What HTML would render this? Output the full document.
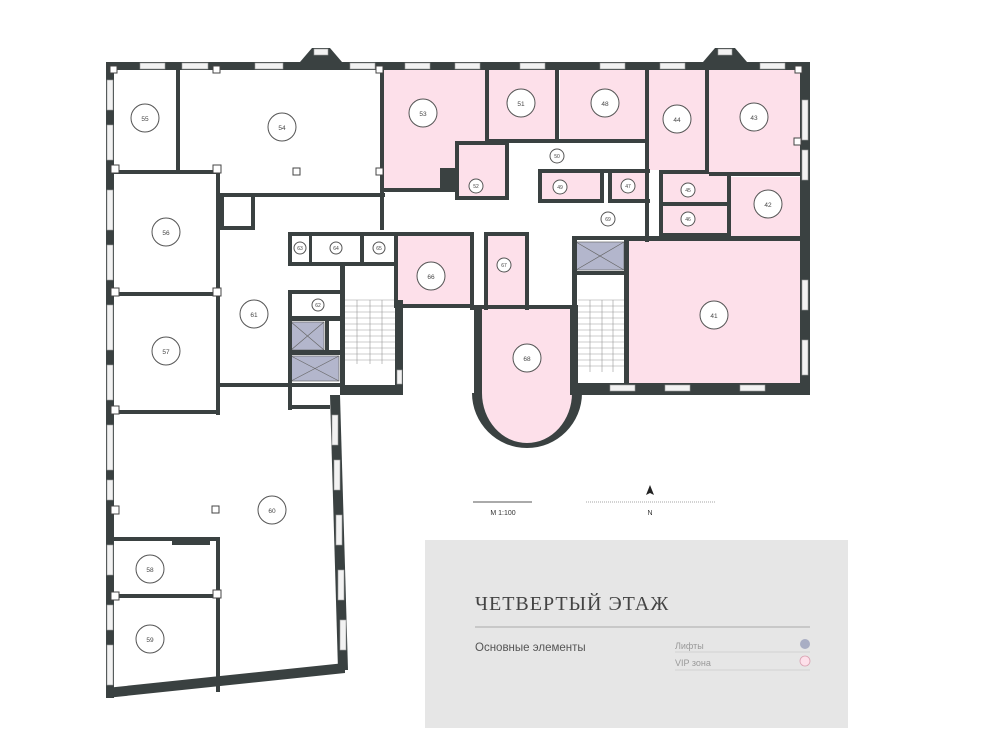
<!DOCTYPE html>
<html><head><meta charset="utf-8"><style>
html,body{margin:0;padding:0;background:#fff;}
svg{display:block}
</style></head><body>
<svg width="1000" height="750" viewBox="0 0 1000 750" xmlns="http://www.w3.org/2000/svg" font-family="Liberation Sans, sans-serif">
<defs>
<g id="c"><circle r="14" fill="#fff" stroke="#555" stroke-width="1"/></g>
</defs>
<g fill="#fde0ea">
<rect x="384" y="70" width="102" height="120"/>
<rect x="487" y="70" width="70" height="70"/>
<rect x="560" y="70" width="86" height="70"/>
<rect x="649" y="70" width="57" height="100"/>
<rect x="708" y="70" width="92" height="103"/>
<rect x="458" y="143" width="47" height="55"/>
<rect x="541" y="172" width="60" height="28"/>
<rect x="610" y="172" width="38" height="28"/>
<rect x="663" y="172" width="64" height="31"/>
<rect x="663" y="205" width="64" height="28"/>
<rect x="731" y="177" width="69" height="59"/>
<rect x="628" y="240" width="172" height="143"/>
<rect x="398" y="236" width="72" height="70"/>
<rect x="488" y="236" width="37" height="70"/>
<path d="M482 308 H572 V393 A45 50 0 0 1 482 393 Z"/>
</g>
<g fill="#b3b6cc" stroke="#666" stroke-width="0.7">
<rect x="576" y="242" width="48" height="28"/><path d="M576 242 L624 270 M624 242 L576 270"/>
<rect x="291" y="322" width="33" height="28"/><path d="M291 322 L324 350 M324 322 L291 350"/>
<rect x="291" y="356" width="48" height="25"/><path d="M291 356 L339 381 M339 356 L291 381"/>
</g>
<g stroke="#999" stroke-width="0.6">
<path d="M345 300 H395 M345 306 H395 M345 312 H395 M345 318 H395 M345 324 H395 M345 330 H395 M345 336 H395 M345 342 H395 M345 348 H395 M345 354 H395 M345 360 H395 M357 300 V364 M370 300 V364 M382 300 V364"/>
<path d="M578 300 H624 M578 306 H624 M578 312 H624 M578 318 H624 M578 324 H624 M578 330 H624 M578 336 H624 M578 342 H624 M578 348 H624 M578 354 H624 M578 360 H624 M578 366 H624 M590 300 V372 M602 300 V372 M613 300 V372"/>
</g>
<g fill="#3a4141">
<rect x="106" y="62" width="704" height="8"/>
<rect x="106" y="62" width="8" height="636"/>
<rect x="800" y="62" width="10" height="333"/>
<rect x="573" y="383" width="237" height="12"/>
<polygon points="106,688 345,663 345,673 106,698"/>
<polygon points="330,395 340,395 348,670 338,670"/>
<rect x="340" y="385" width="63" height="10"/>
<rect x="395" y="300" width="8" height="95"/>
<rect x="474" y="305" width="8" height="90"/>
<rect x="570" y="305" width="8" height="90"/>
<path d="M472 393 A55 55 0 0 0 582 393 L572 393 A45 50 0 0 1 482 393 Z"/>
<polygon points="300,62 312,48 330,48 342,62"/>
<polygon points="703,62 715,48 735,48 747,62"/>
<rect x="176" y="70" width="4" height="102"/>
<rect x="114" y="170" width="106" height="4"/>
<rect x="216" y="170" width="4" height="245"/>
<rect x="114" y="292" width="106" height="4"/>
<rect x="114" y="410" width="106" height="4"/>
<rect x="380" y="70" width="4" height="160"/>
<rect x="485" y="70" width="4" height="73"/>
<rect x="555" y="70" width="4" height="72"/>
<rect x="645" y="70" width="4" height="172"/>
<rect x="705" y="70" width="4" height="104"/>
<rect x="487" y="139" width="160" height="4"/>
<rect x="709" y="172" width="91" height="4"/>
<rect x="240" y="193" width="145" height="4"/>
<rect x="384" y="188" width="75" height="4"/>
<rect x="455" y="141" width="4" height="55"/>
<rect x="455" y="141" width="52" height="4"/>
<rect x="505" y="141" width="4" height="59"/>
<rect x="455" y="196" width="54" height="4"/>
<rect x="440" y="168" width="15" height="24"/>
<rect x="538" y="169" width="4" height="32"/>
<rect x="538" y="169" width="112" height="4"/>
<rect x="538" y="199" width="66" height="4"/>
<rect x="600" y="169" width="4" height="34"/>
<rect x="608" y="169" width="4" height="34"/>
<rect x="608" y="199" width="42" height="4"/>
<rect x="659" y="170" width="4" height="67"/>
<rect x="659" y="170" width="50" height="4"/>
<rect x="659" y="202" width="72" height="4"/>
<rect x="659" y="233" width="72" height="4"/>
<rect x="727" y="174" width="4" height="64"/>
<rect x="628" y="236" width="172" height="5"/>
<rect x="624" y="236" width="5" height="150"/>
<rect x="572" y="236" width="5" height="150"/>
<rect x="572" y="236" width="56" height="4"/>
<rect x="572" y="271" width="56" height="4"/>
<rect x="220" y="193" width="35" height="4"/>
<rect x="220" y="193" width="4" height="35"/>
<rect x="220" y="226" width="35" height="4"/>
<rect x="251" y="193" width="4" height="37"/>
<rect x="288" y="232" width="108" height="4"/>
<rect x="288" y="232" width="4" height="34"/>
<rect x="288" y="262" width="108" height="4"/>
<rect x="309" y="232" width="3" height="34"/>
<rect x="360" y="232" width="4" height="34"/>
<rect x="394" y="232" width="4" height="75"/>
<rect x="394" y="232" width="78" height="4"/>
<rect x="470" y="232" width="4" height="78"/>
<rect x="484" y="232" width="44" height="4"/>
<rect x="484" y="232" width="4" height="78"/>
<rect x="525" y="232" width="4" height="78"/>
<rect x="394" y="304" width="80" height="4"/>
<rect x="480" y="305" width="95" height="4"/>
<rect x="288" y="290" width="54" height="4"/>
<rect x="288" y="290" width="4" height="120"/>
<rect x="340" y="266" width="5" height="120"/>
<rect x="288" y="316" width="54" height="5"/>
<rect x="288" y="350" width="54" height="5"/>
<rect x="325" y="320" width="4" height="32"/>
<rect x="220" y="383" width="122" height="4"/>
<rect x="288" y="405" width="42" height="4"/>
<rect x="114" y="537" width="106" height="4"/>
<rect x="216" y="537" width="4" height="155"/>
<rect x="114" y="594" width="106" height="4"/>
<rect x="172" y="537" width="38" height="8"/>
</g>
<g fill="#fff" stroke="#444" stroke-width="1">
<rect x="293" y="168" width="7" height="7"/>
<rect x="212" y="506" width="7" height="7"/>
<rect x="111" y="165" width="8" height="8"/><rect x="111" y="288" width="8" height="8"/>
<rect x="111" y="406" width="8" height="8"/><rect x="111" y="506" width="8" height="8"/>
<rect x="111" y="592" width="8" height="8"/>
<rect x="213" y="165" width="8" height="8"/><rect x="213" y="288" width="8" height="8"/>
<rect x="213" y="590" width="8" height="8"/>
<rect x="376" y="168" width="7" height="7"/><rect x="376" y="66" width="7" height="7"/>
<rect x="213" y="66" width="7" height="7"/><rect x="110" y="66" width="7" height="7"/>
<rect x="795" y="66" width="7" height="7"/><rect x="794" y="138" width="7" height="7"/>
</g>
<g fill="#f2f2f2" stroke="#999" stroke-width="0.6">
<rect x="140" y="63" width="25" height="6"/><rect x="182" y="63" width="26" height="6"/>
<rect x="255" y="63" width="28" height="6"/><rect x="350" y="63" width="25" height="6"/>
<rect x="405" y="63" width="25" height="6"/><rect x="455" y="63" width="25" height="6"/>
<rect x="520" y="63" width="25" height="6"/><rect x="600" y="63" width="25" height="6"/>
<rect x="660" y="63" width="25" height="6"/><rect x="760" y="63" width="25" height="6"/>
<rect x="314" y="49" width="14" height="6"/><rect x="718" y="49" width="14" height="6"/>
<rect x="107" y="80" width="6" height="30"/><rect x="107" y="125" width="6" height="35"/>
<rect x="107" y="190" width="6" height="40"/><rect x="107" y="245" width="6" height="35"/>
<rect x="107" y="305" width="6" height="45"/><rect x="107" y="365" width="6" height="35"/>
<rect x="107" y="425" width="6" height="45"/><rect x="107" y="480" width="6" height="20"/>
<rect x="107" y="545" width="6" height="30"/><rect x="107" y="605" width="6" height="25"/>
<rect x="107" y="645" width="6" height="40"/>
<rect x="802" y="100" width="6" height="40"/><rect x="802" y="150" width="6" height="30"/>
<rect x="802" y="280" width="6" height="30"/><rect x="802" y="340" width="6" height="35"/>
<rect x="610" y="385" width="25" height="6"/><rect x="665" y="385" width="25" height="6"/>
<rect x="740" y="385" width="25" height="6"/>
<rect x="332" y="415" width="6" height="30"/><rect x="334" y="460" width="6" height="30"/>
<rect x="336" y="515" width="6" height="30"/><rect x="338" y="570" width="6" height="30"/>
<rect x="340" y="620" width="6" height="30"/>
<rect x="397" y="370" width="5" height="14"/>
</g>
<g font-size="6.5" fill="#444" text-anchor="middle">
<use href="#c" x="145" y="118"/><text x="145" y="121">55</text>
<use href="#c" x="282" y="127"/><text x="282" y="130">54</text>
<use href="#c" x="423" y="113"/><text x="423" y="116">53</text>
<use href="#c" x="521" y="103"/><text x="521" y="106">51</text>
<use href="#c" x="605" y="103"/><text x="605" y="106">48</text>
<use href="#c" x="677" y="119"/><text x="677" y="122">44</text>
<use href="#c" x="754" y="117"/><text x="754" y="120">43</text>
<use href="#c" x="768" y="204"/><text x="768" y="207">42</text>
<use href="#c" x="714" y="315"/><text x="714" y="318">41</text>
<use href="#c" x="431" y="276"/><text x="431" y="279">66</text>
<use href="#c" x="527" y="358"/><text x="527" y="361">68</text>
<use href="#c" x="166" y="232"/><text x="166" y="235">56</text>
<use href="#c" x="166" y="351"/><text x="166" y="354">57</text>
<use href="#c" x="254" y="314"/><text x="254" y="317">61</text>
<use href="#c" x="272" y="510"/><text x="272" y="513">60</text>
<use href="#c" x="150" y="569"/><text x="150" y="572">58</text>
<use href="#c" x="150" y="639"/><text x="150" y="642">59</text>
</g>
<g font-size="5" fill="#444" text-anchor="middle">
<circle cx="476" cy="186" r="7" fill="#fff" stroke="#555"/><text x="476" y="188">52</text>
<circle cx="557" cy="156" r="7" fill="#fff" stroke="#555"/><text x="557" y="158">50</text>
<circle cx="560" cy="187" r="7" fill="#fff" stroke="#555"/><text x="560" y="189">49</text>
<circle cx="628" cy="186" r="7" fill="#fff" stroke="#555"/><text x="628" y="188">47</text>
<circle cx="688" cy="190" r="7" fill="#fff" stroke="#555"/><text x="688" y="192">45</text>
<circle cx="688" cy="219" r="7" fill="#fff" stroke="#555"/><text x="688" y="221">46</text>
<circle cx="608" cy="219" r="7" fill="#fff" stroke="#555"/><text x="608" y="221">69</text>
<circle cx="504" cy="265" r="7" fill="#fff" stroke="#555"/><text x="504" y="267">67</text>
<circle cx="300" cy="248" r="6" fill="#fff" stroke="#555"/><text x="300" y="250">63</text>
<circle cx="336" cy="248" r="6" fill="#fff" stroke="#555"/><text x="336" y="250">64</text>
<circle cx="379" cy="248" r="6" fill="#fff" stroke="#555"/><text x="379" y="250">65</text>
<circle cx="318" cy="305" r="6" fill="#fff" stroke="#555"/><text x="318" y="307">62</text>
</g>
<line x1="473" y1="502" x2="532" y2="502" stroke="#555" stroke-width="1"/>
<text x="503" y="515" font-size="7" fill="#333" text-anchor="middle">M 1:100</text>
<line x1="586" y1="502" x2="715" y2="502" stroke="#888" stroke-width="0.8" stroke-dasharray="1,1"/>
<polygon points="650,485 646,495 650,493 654,495" fill="#222"/>
<text x="650" y="515" font-size="7" fill="#333" text-anchor="middle">N</text>
<rect x="425" y="540" width="423" height="188" fill="#e6e6e6"/>
<text x="475" y="610" font-family="Liberation Serif, serif" font-size="20" fill="#444" letter-spacing="1">ЧЕТВЕРТЫЙ ЭТАЖ</text>
<line x1="475" y1="627" x2="810" y2="627" stroke="#aaa" stroke-width="1"/>
<text x="475" y="651" font-size="11.5" fill="#555">Основные элементы</text>
<text x="675" y="649" font-size="9" fill="#999">Лифты</text>
<line x1="675" y1="652" x2="810" y2="652" stroke="#ccc" stroke-width="0.8"/>
<circle cx="805" cy="644" r="5" fill="#a9aec4"/>
<text x="675" y="666" font-size="9" fill="#999">VIP зона</text>
<line x1="675" y1="670" x2="810" y2="670" stroke="#ccc" stroke-width="0.8"/>
<circle cx="805" cy="661" r="5" fill="#fde0ea" stroke="#d9a0b0" stroke-width="0.8"/>
</svg>
</body></html>
